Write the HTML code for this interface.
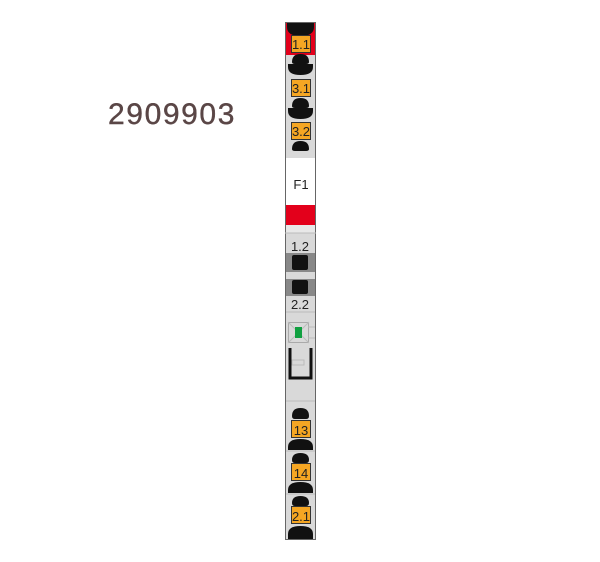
<!DOCTYPE html>
<html><head><style>body{margin:0;background:#fff;}svg{display:block}</style></head><body>
<svg width="600" height="562" viewBox="0 0 600 562" xmlns="http://www.w3.org/2000/svg" font-family="Liberation Sans, sans-serif">
<text x="108" y="124" font-size="30" fill="#5a4646" letter-spacing="1.6" stroke="#5a4646" stroke-width="0.4">2909903</text>
<!-- strip -->
<rect x="285.5" y="22.5" width="30" height="517" fill="#d9d9d9" stroke="#666" stroke-width="1"/>
<rect x="286" y="23" width="29" height="32" fill="#e3001b"/>
<rect x="286" y="158" width="29" height="47" fill="#fff"/>
<rect x="286" y="205" width="29" height="20" fill="#e3001b"/>
<rect x="286" y="225" width="29" height="8" fill="#e8e8e8"/>
<line x1="285" y1="233" x2="316" y2="233" stroke="#bbb"/>
<path d="M287 23 H314 V27 Q314 36 300.5 36 Q287 36 287 27 Z" fill="#111"/>
<g font-size="13" text-anchor="middle" fill="#222">
<rect x="291.5" y="35.5" width="19" height="17" fill="#f5a623" stroke="#333"/>
<text x="301" y="49">1.1</text>
<path d="M292 62 Q292 54 300.5 54 Q309 54 309 62 Q309 64 306 64 H295 Q292 64 292 62Z" fill="#111"/>
<path d="M288 64 H313 V67 Q313 75 300.5 75 Q288 75 288 67Z" fill="#111"/>
<rect x="291.5" y="79.5" width="19" height="17" fill="#f5a623" stroke="#333"/>
<text x="301" y="93">3.1</text>
<path d="M292 106 Q292 98 300.5 98 Q309 98 309 106 Q309 108 306 108 H295 Q292 108 292 106Z" fill="#111"/>
<path d="M288 108 H313 V111 Q313 119 300.5 119 Q288 119 288 111Z" fill="#111"/>
<rect x="291.5" y="122.5" width="19" height="17" fill="#f5a623" stroke="#333"/>
<text x="301" y="136">3.2</text>
<path d="M292 149 Q292 141 300.5 141 Q309 141 309 149 Q309 151 306 151 H295 Q292 151 292 149Z" fill="#111"/>
<text x="301" y="189" font-size="13">F1</text>
<text x="300" y="251" font-size="13">1.2</text>
<rect x="286" y="253" width="29" height="19" fill="#888"/>
<rect x="292" y="255" width="16" height="15" rx="2" fill="#111"/>
<rect x="286" y="279" width="29" height="17" fill="#888"/>
<rect x="292" y="280" width="16" height="14" rx="2" fill="#111"/>
<text x="300" y="309" font-size="13">2.2</text>
<line x1="286" y1="312" x2="315" y2="312" stroke="#bbb"/>
<rect x="288.5" y="322.5" width="20" height="20" fill="none" stroke="#aaa"/>
<line x1="288" y1="322" x2="309" y2="343" stroke="#bbb"/><line x1="309" y1="322" x2="288" y2="343" stroke="#bbb"/>
<rect x="295" y="327" width="7" height="11" fill="#10a040"/>
<line x1="308" y1="327" x2="315" y2="327" stroke="#bbb"/><line x1="308" y1="338" x2="315" y2="338" stroke="#bbb"/>
<path d="M290 348 V378 H311 V348" fill="none" stroke="#111" stroke-width="3"/>
<rect x="292" y="360" width="12" height="5" fill="none" stroke="#bbb"/>
<line x1="286" y1="401" x2="315" y2="401" stroke="#bbb"/>
<path d="M292 416 Q292 408 300.5 408 Q309 408 309 416 Q309 419 306 419 H295 Q292 419 292 416Z" fill="#111"/>
<rect x="291.5" y="420.5" width="19" height="17" fill="#f5a623" stroke="#333"/>
<text x="301" y="435">13</text>
<path d="M288 450 V447 Q288 439 300.5 439 Q313 439 313 447 V450Z" fill="#111"/>
<line x1="286" y1="451" x2="315" y2="451" stroke="#bbb"/>
<path d="M292 460 Q292 453 300.5 453 Q309 453 309 460 Q309 463 306 463 H295 Q292 463 292 460Z" fill="#111"/>
<rect x="291.5" y="463.5" width="19" height="17" fill="#f5a623" stroke="#333"/>
<text x="301" y="478">14</text>
<path d="M288 493 V490 Q288 482 300.5 482 Q313 482 313 490 V493Z" fill="#111"/>
<line x1="286" y1="494" x2="315" y2="494" stroke="#bbb"/>
<path d="M292 503 Q292 496 300.5 496 Q309 496 309 503 Q309 506 306 506 H295 Q292 506 292 503Z" fill="#111"/>
<rect x="291.5" y="506.5" width="19" height="17" fill="#f5a623" stroke="#333"/>
<text x="301" y="521">2.1</text>
<path d="M288 539 V534 Q288 526 300.5 526 Q313 526 313 534 V539Z" fill="#111"/>
</g>
</svg>
</body></html>
